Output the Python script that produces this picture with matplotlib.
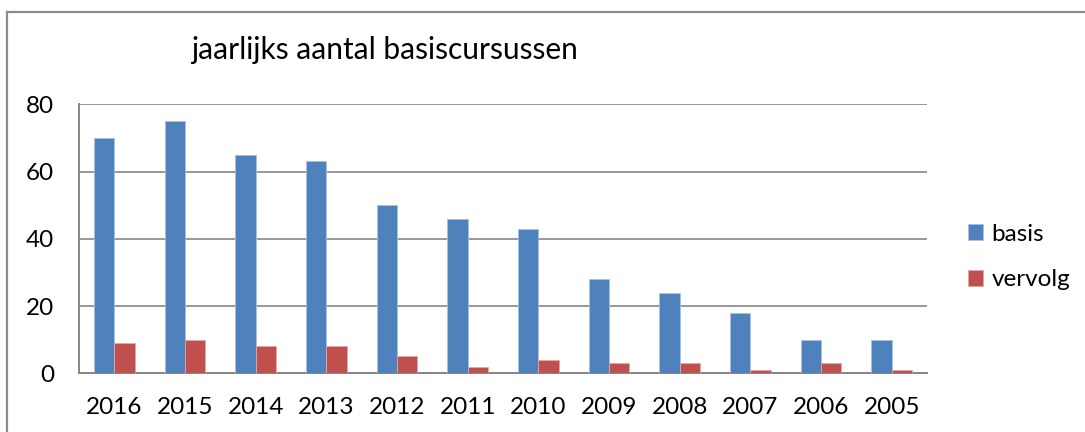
import numpy as np
import matplotlib.pyplot as plt
from matplotlib.lines import Line2D

plt.rcParams['font.family'] = ['Lato', 'DejaVu Sans']

years = ['2016', '2015', '2014', '2013', '2012', '2011', '2010',
         '2009', '2008', '2007', '2006', '2005']
basis = [70, 75, 65, 63, 50, 46, 43, 28, 24, 18, 10, 10]
vervolg = [9, 10, 8, 8, 5, 2, 4, 3, 3, 1, 3, 1]

blue = '#4F81BD'
red = '#C0504D'
grid_col = '#868686'

fig = plt.figure(figsize=(10.85, 4.32), dpi=100)
ax = fig.add_axes([0.0728, 0.1359, 0.7816, 0.6227])

x = np.arange(len(years))
w = 1 / 3.5
ax.bar(x - w / 2, basis, w, color=blue, edgecolor='#a9c0e0', linewidth=0.6, label='basis', zorder=3)
ax.bar(x + w / 2, vervolg, w, color=red, edgecolor='#e0a9a8', linewidth=0.6, label='vervolg', zorder=3)

ax.set_xlim(-0.5, len(years) - 0.5)
ax.set_ylim(0, 80)
ax.set_yticks([0, 20, 40, 60, 80])
ax.set_xticks(x)
ax.set_xticklabels(years)
ax.yaxis.grid(True, color=grid_col, linewidth=1.2, zorder=0)
ax.set_axisbelow(True)
for s in ['top', 'right']:
    ax.spines[s].set_visible(False)
for s in ['left', 'bottom']:
    ax.spines[s].set_color(grid_col)
    ax.spines[s].set_linewidth(1.4)
ax.tick_params(axis='both', length=0, labelsize=17.5, colors='black')
ax.tick_params(axis='y', pad=18)
ax.tick_params(axis='x', pad=17)

fig.text(0.354, 0.884, 'jaarlijks aantal basiscursussen', fontsize=21.5,
         ha='center', va='center')

fig.legend(loc='center left', bbox_to_anchor=(0.892, 0.405), frameon=False,
           fontsize=17.5, handlelength=0.62, handleheight=0.62,
           handletextpad=0.35, labelspacing=1.0, borderpad=0, borderaxespad=0)

# outer chart border (only top and left visible)
fig.add_artist(Line2D([0.006, 0.006], [0, 0.972], color='#8c8c8c', linewidth=1.6,
                      transform=fig.transFigure))
fig.add_artist(Line2D([0.006, 1], [0.972, 0.972], color='#8c8c8c', linewidth=1.6,
                      transform=fig.transFigure))

fig.savefig('out.png', dpi=100)
